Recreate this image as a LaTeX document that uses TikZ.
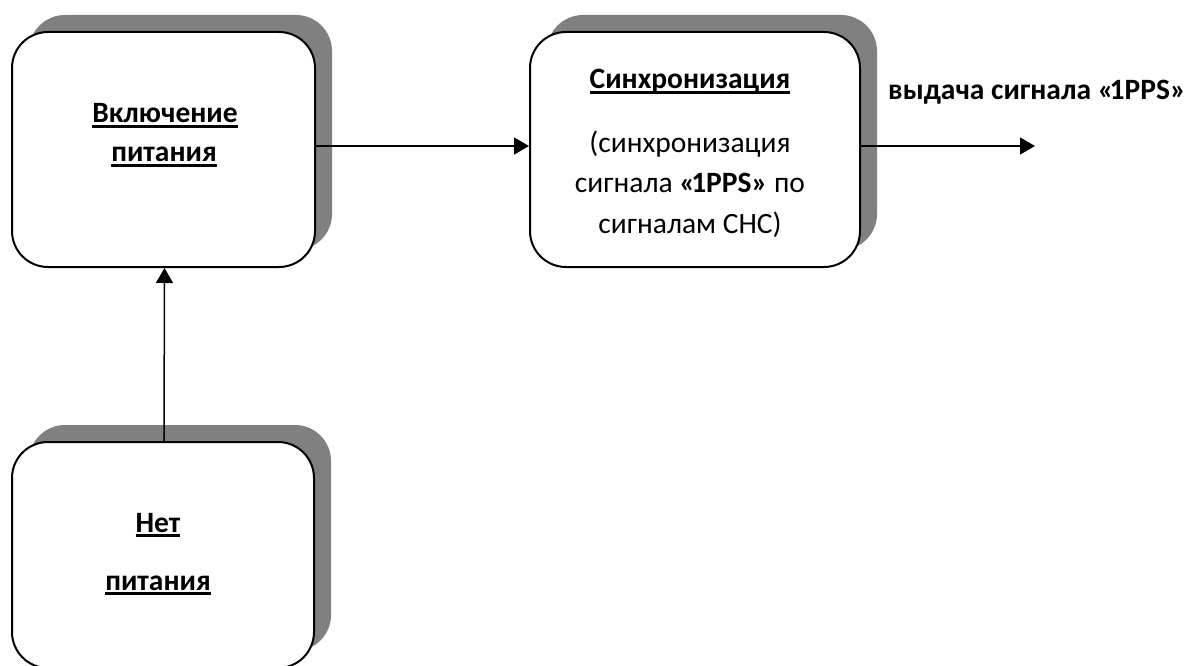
\documentclass[tikz,border=0pt]{standalone}
\usepackage{fontspec}
\setmainfont{Carlito}
\usetikzlibrary{arrows.meta,shadows}
\definecolor{shadowgray}{RGB}{128,128,128}
\newcommand{\myul}[1]{\setbox0\hbox{#1}\rlap{\vrule height -2.2pt depth 4.8pt width \wd0}\box0}
\newcommand{\pps}{«\kern-4pt 1PPS»}
\tikzset{
  stepbox/.style={draw=black, line width=2pt, fill=white, rounded corners=36pt,
    drop shadow={shadow xshift=17pt, shadow yshift=17pt, fill=shadowgray, opacity=1, draw=none}},
  lbl/.style={inner sep=0pt, anchor=base, font=\fontsize{29.5}{35}\selectfont},
  conn/.style={line width=1.5pt, -{Triangle[length=15pt,width=17pt]}}
}
\begin{document}
\begin{tikzpicture}[x=1pt,y=-1pt]
\useasboundingbox (0,0) rectangle (1189,666);
% boxes
\node[stepbox, minimum width=303pt, minimum height=235pt] (b1) at (163.5,149.5) {};
\node[stepbox, minimum width=330pt, minimum height=235pt] (b2) at (695,149.5) {};
\node[stepbox, minimum width=302pt, minimum height=226pt] (b3) at (163,555) {};
% texts
\node[lbl] (t1a) at (165,123) {\bfseries\myul{Включение}};
\node[lbl] (t1b) at (164,162) {\bfseries\myul{питания}};
\node[lbl] (t2a) at (690,89) {\bfseries\myul{Синхронизация}};
\node[lbl] (t2b) at (690,153) {(синхронизация};
\node[lbl] (t2c) at (690,193) {сигнала \textbf{\pps} по};
\node[lbl] (t2d) at (690,233) {сигналам СНС)};
\node[lbl] (t3a) at (158,532) {\bfseries\myul{Нет}};
\node[lbl] (t3b) at (158,590) {\bfseries\myul{питания}};
\node[lbl, anchor=base west] (out) at (888,100) {\bfseries выдача сигнала \pps};
% connectors
\coordinate (end) at (1035,146);
\draw[conn] ([yshift=3.5pt]b1.east) -- ([yshift=3.5pt]b2.west);
\draw[conn] ([yshift=3.5pt]b2.east) -- (end);
\draw[conn] ([xshift=1pt]b3.north) -- ([xshift=1pt]b1.south);
\end{tikzpicture}
\end{document}
